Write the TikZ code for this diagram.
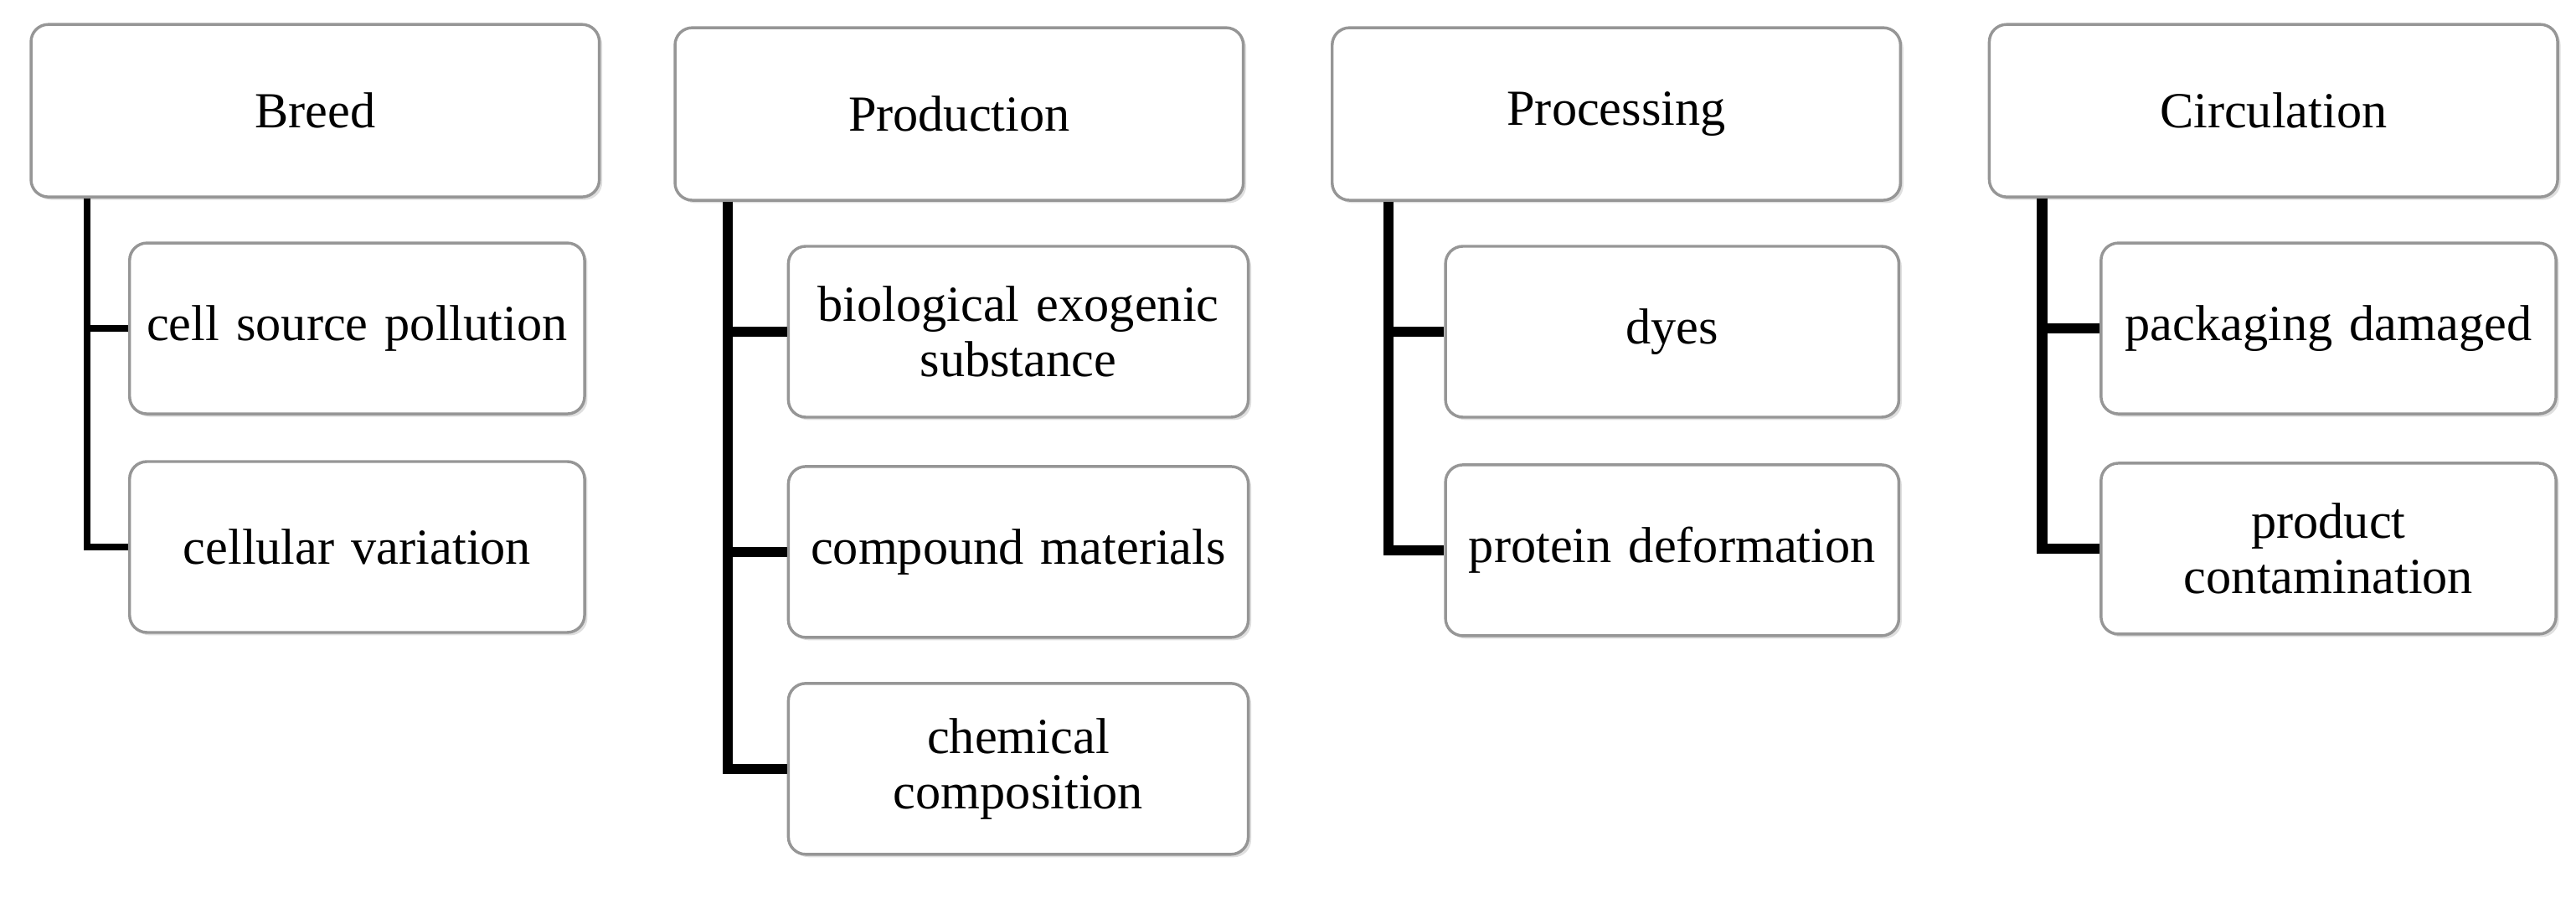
\documentclass[tikz,border=0pt]{standalone}
\usepackage{fontspec}
\setmainfont{Liberation Serif}
\usetikzlibrary{positioning,calc,shadows}
\definecolor{BoxLine}{RGB}{150,150,150}

\begin{document}
\begin{tikzpicture}[x=0.02cm, y=-0.02cm, font=\fontsize{17.5}{19}\selectfont,
    box/.style={draw=BoxLine, line width=1pt, rounded corners=6pt, fill=white,
        drop shadow={shadow xshift=1pt, shadow yshift=-1pt, opacity=0.25},
        align=center, text width=5.4cm, anchor=north west, inner sep=1pt},
    top/.style={box, minimum width=6.92cm, text width=6.5cm, minimum height=2.1cm},
    sub/.style={box, minimum width=5.6cm, minimum height=2.08cm},
    link/.style={line width=3.5pt}]

    \useasboundingbox (0,0) rectangle (1568,546);

    \node[top] (Breed) at (18,14) {Breed};
    \node[top] (Prod) at (410,16) {Production};
    \node[top] (Proc) at (810,16) {Processing};
    \node[top] (Circ) at (1210,14) {Circulation};

    \node[sub, minimum width=5.54cm] (Breed1) at (78,147) {cell source pollution};
    \node[sub, minimum width=5.54cm] (Breed2) at (78,280) {cellular variation};
    \node[sub] (Prod1) at (479,149) {biological exogenic\\substance};
    \node[sub] (Prod2) at (479,283) {compound materials};
    \node[sub] (Prod3) at (479,415) {chemical\\composition};
    \node[sub, minimum width=5.52cm] (Proc1) at (879,149) {dyes};
    \node[sub, minimum width=5.52cm] (Proc2) at (879,282) {protein deformation};
    \node[sub, minimum width=5.54cm] (Circ1) at (1278,147) {packaging damaged};
    \node[sub, minimum width=5.54cm] (Circ2) at (1278,281) {product\\contamination};

    % connectors
    \foreach \from/\to/\x/\w in {Breed/Breed1/53/2.5pt, Breed/Breed2/53/2.5pt,
        Prod/Prod1/443/3.5pt, Prod/Prod2/443/3.5pt, Prod/Prod3/443/3.5pt,
        Proc/Proc1/845/3.5pt, Proc/Proc2/845/3.5pt,
        Circ/Circ1/1243/3.5pt, Circ/Circ2/1243/3.5pt}
    \draw[link, line width=\w] (\from.south -| \x,0) |- (\to.west);
\end{tikzpicture}
\end{document}
